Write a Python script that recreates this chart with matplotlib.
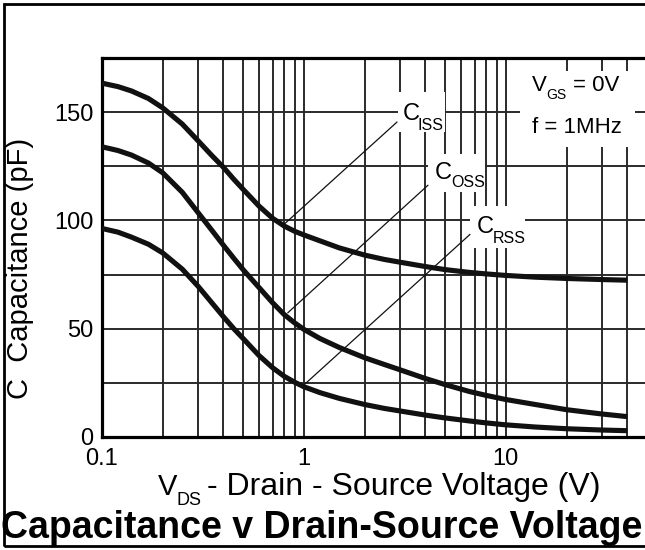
import numpy as np
import matplotlib
matplotlib.use("Agg")
import matplotlib.pyplot as plt
from matplotlib.patches import Rectangle

plt.rcParams['font.family'] = ['Liberation Sans', 'DejaVu Sans']

# values
vds = [0.1, 0.12, 0.14, 0.17, 0.2, 0.25, 0.3, 0.35, 0.4, 0.45, 0.5, 0.6, 0.7, 0.8,
       0.9, 1.0, 1.2, 1.5, 2.0, 2.5, 3.0, 4.0, 5.0, 6.6, 8.0, 10.0, 14.0, 20.0, 30.0, 40.0]
ciss = [163.4, 161.8, 159.8, 156.3, 152, 144.5, 136.7, 130, 124.5, 119, 114.4, 106.6,
        101, 97.4, 95, 93.3, 90.6, 87.3, 84, 82, 80.7, 78.7, 77.3, 76, 75.3, 74.6, 73.8,
        73.2, 72.7, 72.4]
coss = [134, 132.3, 130.2, 126.5, 122, 113, 103.5, 95.5, 88.5, 82.5, 77.3, 69, 62,
        56.5, 52.7, 49.7, 45.5, 41.3, 36.6, 33.5, 31, 27, 24.2, 21, 19.2, 17.3, 15,
        12.6, 10.6, 9.4]
crss = [96.3, 94.6, 92.3, 89, 85, 77.5, 69.5, 62, 55.5, 50, 45.5, 37.6, 32, 28, 25.3,
        23.2, 20.5, 17.8, 15, 13.2, 12, 10.1, 8.8, 7.4, 6.5, 5.6, 4.6, 3.8, 3.2, 2.9]

labels = ['ISS', 'OSS', 'RSS']
# pointer lines: curve point -> label corner
pointers = [((0.787, 97.7), (2.89, 145.4)),
            ((0.834, 57.4), (4.11, 116.2)),
            ((1.0, 24.0), (6.64, 93.5))]
# white patches behind the labels (x0, x1, y0, y1)
boxes = [(2.92, 4.99, 140.7, 159.3),
         (4.11, 7.87, 113.0, 130.6),
         (6.64, 12.4, 87.5, 106.5),
         (11.7, 43.6, 133.8, 169.0)]
# "C" position and subscript offset (points)
cpos = [((3.09, 146.3), (10.8, -7.2)),
        ((4.46, 119.0), (12.0, -5.8)),
        ((7.18, 94.4), (11.5, -7.2))]

fig = plt.figure(figsize=(6.45, 5.5), dpi=100)
ax = fig.add_axes([0.158, 0.2055, 0.845, 0.689])

ax.set_xscale('log')
ax.set_xlim(0.1, 50)
ax.set_ylim(0, 175)

gx = [0.2, 0.3, 0.4, 0.5, 0.6, 0.7, 0.8, 0.9, 1, 2, 3, 4, 5, 6, 7, 8, 9, 10, 20, 30, 40]
for g in gx:
    ax.axvline(g, color='#2a2a2a', lw=1.4, zorder=1)
for g in [25, 50, 75, 100, 125, 150]:
    ax.axhline(g, color='#2a2a2a', lw=1.4, zorder=1)

for x0, x1, y0, y1 in boxes:
    ax.add_patch(Rectangle((x0, y0), x1 - x0, y1 - y0, facecolor='white',
                           edgecolor='none', zorder=1.5))

for c in [ciss, coss, crss]:
    ax.plot(vds, c, color='#111111', lw=3.7, solid_capstyle='butt',
            solid_joinstyle='round', zorder=3)

for (p0, p1) in pointers:
    ax.plot([p0[0], p1[0]], [p0[1], p1[1]], color='#111111', lw=0.9, zorder=2)

for (xy, off), lab in zip(cpos, labels):
    ax.text(xy[0], xy[1], 'C', fontsize=17, ha='left', va='baseline', zorder=4)
    ax.annotate(lab, xy=xy, xytext=off, textcoords='offset points',
                fontsize=11.5, ha='left', va='baseline', zorder=4)

ax.annotate('V', xy=(13.45, 159.7), fontsize=16, ha='left', va='baseline')
ax.annotate('GS', xy=(13.45, 159.7), xytext=(10.3, -5.8), textcoords='offset points',
            fontsize=10, ha='left', va='baseline')
ax.annotate('= 0V', xy=(13.45, 159.7), xytext=(29.5, 0), textcoords='offset points',
            fontsize=16, ha='left', va='baseline')
ax.text(13.45, 140.4, 'f = 1MHz', fontsize=16, ha='left', va='baseline')

ax.set_xticks([0.1, 1, 10])
ax.set_xticklabels(['0.1', '1', '10'])
ax.set_xticks([], minor=True)
ax.set_yticks([0, 50, 100, 150])
ax.tick_params(axis='x', length=0, labelsize=17, pad=8)
ax.tick_params(axis='y', length=0, labelsize=17, pad=6)

for s in ['left', 'bottom', 'top']:
    ax.spines[s].set_linewidth(2.3)
ax.spines['right'].set_visible(False)

fig.text(158 / 645, 1 - 495 / 550, 'V', fontsize=21, ha='left', va='baseline')
fig.text(176 / 645, 1 - 505 / 550, 'DS', fontsize=13, ha='left', va='baseline')
fig.text(207 / 645, 1 - 495 / 550, '- Drain - Source Voltage (V)', fontsize=23,
         ha='left', va='baseline')
fig.text(20 / 645, 1 - 268 / 550, 'C  Capacitance (pF)', fontsize=21, rotation=90,
         ha='center', va='center')

fig.text(322 / 645, 1 - 538 / 550, 'Capacitance v Drain-Source Voltage', fontsize=27,
         fontweight='bold', ha='center', va='baseline')

fig.patches.append(Rectangle((0.006, 0.007), 1.1, 0.986, transform=fig.transFigure,
                             fill=False, edgecolor='black', lw=2))

fig.savefig('out.png', dpi=100)
